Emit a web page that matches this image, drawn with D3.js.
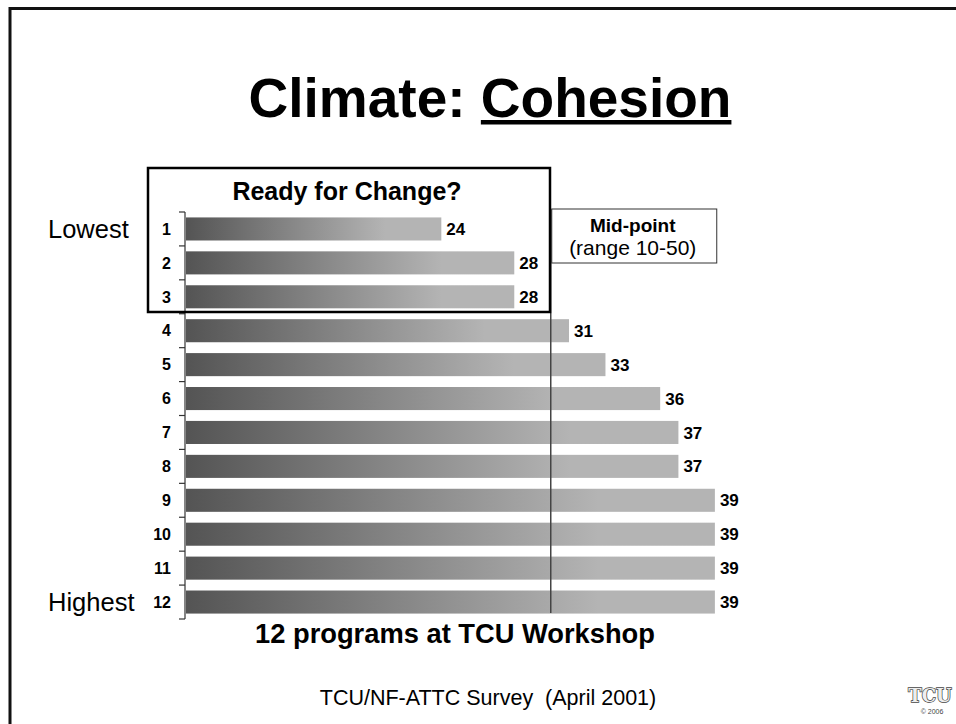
<!DOCTYPE html>
<html>
<head>
<meta charset="utf-8">
<script src="https://cdn.jsdelivr.net/npm/d3@7"></script>
<style>
  html, body { margin: 0; padding: 0; background: #fff; }
  svg { display: block; font-family: "Liberation Sans", Arial, Helvetica, sans-serif; }
</style>
</head>
<body>
<svg id="chart" width="956" height="724"></svg>
<script>
// ---- data ----
const categories = ["1","2","3","4","5","6","7","8","9","10","11","12"];
const values = [24, 28, 28, 31, 33, 36, 37, 37, 39, 39, 39, 39];
const scaleRange = [10, 50];
const midpoint = 30;
const titleMain = "Climate: ";
const titleUnderlined = "Cohesion";
const boxTitle = "Ready for Change?";
const midLabel = ["Mid-point", "(range 10-50)"];
const endLabels = ["Lowest", "Highest"];
const xCaption = "12 programs at TCU Workshop";
const footer = "TCU/NF-ATTC Survey\u00a0\u00a0(April 2001)";

const svg = d3.select("#chart");
svg.append("rect").attr("width", 956).attr("height", 724).attr("fill", "#fff");

// slide border
svg.append("rect").attr("x", 10).attr("y", 8.5).attr("width", 980).attr("height", 740)
  .attr("fill", "none").attr("stroke", "#111").attr("stroke-width", 3);

// title
const title = svg.append("text").attr("x", 490).attr("y", 117)
  .attr("text-anchor", "middle").attr("font-size", 55).attr("font-weight", "bold").attr("fill", "#000");
title.append("tspan").text(titleMain);
const tU = title.append("tspan").text(titleUnderlined);
const fullW = title.node().getComputedTextLength();
const uW = tU.node().getComputedTextLength();
svg.append("rect").attr("x", 490 + fullW / 2 - uW).attr("y", 120).attr("width", uW).attr("height", 4.5).attr("fill", "#000");

// gradient
const defs = svg.append("defs");
const grad = defs.append("linearGradient").attr("id", "barGrad").attr("x1", 0).attr("x2", 1).attr("y1", 0).attr("y2", 0);
grad.append("stop").attr("offset", 0).attr("stop-color", "#545454");
grad.append("stop").attr("offset", 0.78).attr("stop-color", "#b4b4b4");
grad.append("stop").attr("offset", 1).attr("stop-color", "#b4b4b4");

// scales
const x = d3.scaleLinear().domain(scaleRange).range([186, 915.5]);
const y = d3.scaleBand().domain(categories).range([212, 619]).paddingInner(0.32).paddingOuter(0.16);
const data = categories.map((c, i) => ({ c, v: values[i] }));

// bars
svg.append("g").selectAll("rect").data(data).join("rect")
  .attr("x", x(scaleRange[0])).attr("y", d => y(d.c))
  .attr("width", d => x(d.v) - x(scaleRange[0])).attr("height", y.bandwidth())
  .attr("fill", "url(#barGrad)");

// axis line and ticks at band boundaries
const step = y.step();
const axisX = 185;
const boundaries = categories.map(c => y(c) - y.paddingInner() * step / 2).concat([y.range()[1]]);
svg.append("line").attr("x1", axisX).attr("x2", axisX).attr("y1", y.range()[0]).attr("y2", y.range()[1])
  .attr("stroke", "#333").attr("stroke-width", 1.2);
svg.append("g").selectAll("line").data(boundaries).join("line")
  .attr("x1", axisX - 6).attr("x2", axisX).attr("y1", d => d).attr("y2", d => d)
  .attr("stroke", "#333").attr("stroke-width", 1.2);

// category labels
svg.append("g").selectAll("text").data(data).join("text")
  .attr("x", 171).attr("y", d => y(d.c) + y.bandwidth() / 2).attr("dy", "0.36em")
  .attr("text-anchor", "end").attr("font-size", 16).attr("font-weight", "bold").text(d => d.c);

// value labels
svg.append("g").selectAll("text").data(data).join("text")
  .attr("x", d => x(d.v) + 5).attr("y", d => y(d.c) + y.bandwidth() / 2).attr("dy", "0.36em")
  .attr("font-size", 17).attr("font-weight", "bold").text(d => d.v);

// midpoint line
svg.append("line").attr("x1", x(midpoint)).attr("x2", x(midpoint)).attr("y1", 209).attr("y2", 613)
  .attr("stroke", "#444").attr("stroke-width", 1.5);

// midpoint box
svg.append("rect").attr("x", x(midpoint) + 1).attr("y", 209).attr("width", 165).attr("height", 54)
  .attr("fill", "#fff").attr("stroke", "#333").attr("stroke-width", 1);
svg.append("text").attr("x", x(midpoint) + 82).attr("y", 232).attr("text-anchor", "middle")
  .attr("font-size", 19).attr("font-weight", "bold").text(midLabel[0]);
svg.append("text").attr("x", x(midpoint) + 82).attr("y", 255).attr("text-anchor", "middle")
  .attr("font-size", 21).text(midLabel[1]);

// ready for change box
svg.append("rect").attr("x", 148).attr("y", 168).attr("width", 402).attr("height", 144)
  .attr("fill", "none").attr("stroke", "#000").attr("stroke-width", 2.5);
svg.append("text").attr("x", 347).attr("y", 200).attr("text-anchor", "middle")
  .attr("font-size", 25).attr("font-weight", "bold").text(boxTitle);

// lowest / highest
svg.append("text").attr("x", 48).attr("y", y(categories[0]) + y.bandwidth() / 2).attr("dy", "0.36em")
  .attr("font-size", 25.5).text(endLabels[0]);
svg.append("text").attr("x", 48).attr("y", y(categories[categories.length - 1]) + y.bandwidth() / 2).attr("dy", "0.36em")
  .attr("font-size", 25.5).text(endLabels[1]);

// caption
svg.append("text").attr("x", 455).attr("y", 643).attr("text-anchor", "middle")
  .attr("font-size", 27.3).attr("font-weight", "bold").text(xCaption);

// footer
svg.append("text").attr("x", 488).attr("y", 705).attr("text-anchor", "middle")
  .attr("font-size", 21.5).text(footer);

// logo
svg.append("text").attr("x", 930).attr("y", 702).attr("text-anchor", "middle")
  .attr("font-family", "'DejaVu Serif', serif").attr("font-size", 18).attr("font-weight", "bold")
  .attr("fill", "#eeeeee").attr("stroke", "#444").attr("stroke-width", 1.4).attr("paint-order", "stroke")
  .text("TCU");
svg.append("text").attr("x", 932).attr("y", 714).attr("text-anchor", "middle")
  .attr("font-size", 7).attr("fill", "#444").text("\u00a9 2006");
</script>
</body>
</html>
